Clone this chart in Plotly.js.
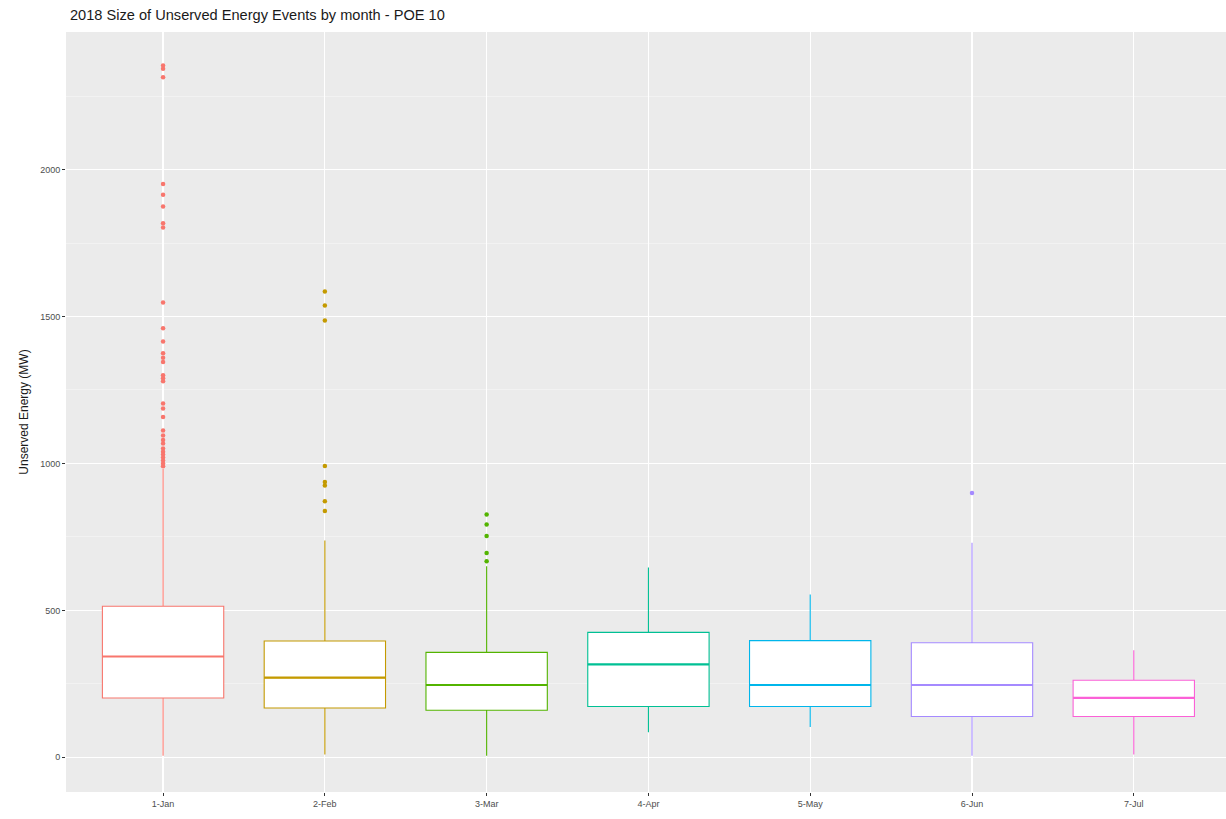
<!DOCTYPE html>
<html>
<head>
<meta charset="utf-8">
<script src="https://cdn.plot.ly/plotly-3.0.1.min.js"></script>
<style>html,body{margin:0;padding:0;background:#fff;}#chart{width:1226px;height:819px;}</style>
</head>
<body>
<div id="chart"></div>
<script>
// Data
const months = ["1-Jan", "2-Feb", "3-Mar", "4-Apr", "5-May", "6-Jun", "7-Jul"];
const colors = ["#F8766D", "#C49A00", "#53B400", "#00C094", "#00B6EB", "#A58AFF", "#FB61D7"];
const lowerWhisker = [5, 10, 5, 85, 103, 5, 10];
const q1 = [202, 168, 160, 173, 173, 139, 139];
const medians = [343, 271, 246, 316, 246, 246, 202];
const q3 = [514, 396, 357, 425, 397, 390, 262];
const upperWhisker = [982, 738, 650, 646, 554, 730, 364];

const outliersJan = [2354, 2343, 2314, 1951, 1914, 1874, 1817, 1803, 1548, 1460, 1415, 1375, 1360, 1345,
  1300, 1290, 1280, 1204, 1187, 1158, 1112, 1095, 1080, 1068, 1051, 1040, 1030, 1020, 1010, 1000, 990];
const outliersFeb = [1585, 1537, 1486, 991, 937, 925, 871, 838];
const outliersMar = [826, 792, 753, 695, 667];
const outliersJun = [899];
const outlierSets = [outliersJan, outliersFeb, outliersMar, [], [], outliersJun, []];

const traces = [];
months.forEach((m, i) => {
  traces.push({
    type: "box",
    name: m,
    x: [m],
    q1: [q1[i]],
    median: [medians[i]],
    q3: [q3[i]],
    lowerfence: [lowerWhisker[i]],
    upperfence: [upperWhisker[i]],
    width: 0.75,
    whiskerwidth: 0,
    fillcolor: "white",
    line: { color: colors[i], width: 1.1 },
    boxpoints: false,
    hoverinfo: "y",
    showlegend: false
  });
  // thicker median bar (ggplot style), drawn as a flat box at the median
  traces.push({
    type: "box",
    name: m + " median",
    x: [m],
    q1: [medians[i]],
    median: [medians[i]],
    q3: [medians[i]],
    lowerfence: [medians[i]],
    upperfence: [medians[i]],
    width: 0.75,
    whiskerwidth: 0,
    fillcolor: colors[i],
    line: { color: colors[i], width: 2.2 },
    boxpoints: false,
    hoverinfo: "skip",
    showlegend: false
  });
  if (outlierSets[i].length) {
    traces.push({
      type: "scatter",
      mode: "markers",
      x: outlierSets[i].map(() => m),
      y: outlierSets[i],
      marker: { color: colors[i], size: 4.5 },
      showlegend: false,
      hoverinfo: "y"
    });
  }
});

const layout = {
  width: 1226,
  height: 819,
  margin: { l: 66, r: 0, t: 32, b: 27 },
  paper_bgcolor: "white",
  plot_bgcolor: "#EBEBEB",
  boxmode: "overlay",
  showlegend: false,
  font: { family: "Liberation Sans, Arial, sans-serif", color: "#4D4D4D" },
  title: {
    text: "2018 Size of Unserved Energy Events by month - POE 10",
    x: 70 / 1226, xanchor: "left", xref: "container",
    y: 1 - 15 / 819, yanchor: "middle", yref: "container",
    font: { size: 14.6, color: "#1a1a1a", family: "Liberation Sans, Arial, sans-serif" }
  },
  xaxis: {
    type: "category",
    categoryorder: "array",
    categoryarray: months,
    range: [-0.6, 6.57],
    showgrid: true,
    gridcolor: "white",
    gridwidth: 1.2,
    zeroline: false,
    ticks: "outside",
    ticklen: 3,
    tickcolor: "#333333",
    tickfont: { size: 9, color: "#4D4D4D" },
    showline: false
  },
  yaxis: {
    range: [-118, 2468],
    tickvals: [0, 500, 1000, 1500, 2000],
    ticktext: ["0", "500", "1000", "1500", "2000"],
    showgrid: true,
    gridcolor: "white",
    gridwidth: 1.2,
    minor: { tickvals: [250, 750, 1250, 1750, 2250], showgrid: true, gridcolor: "#F7F7F7", gridwidth: 0.6, ticks: "" },
    zeroline: false,
    ticks: "outside",
    ticklen: 3,
    tickcolor: "#333333",
    tickfont: { size: 9, color: "#4D4D4D" },
    title: { text: "Unserved Energy (MW)", font: { size: 12, color: "#1a1a1a" }, standoff: 8 },
    showline: false
  }
};

Plotly.newPlot("chart", traces, layout, { displayModeBar: false, staticPlot: true });
</script>
</body>
</html>
